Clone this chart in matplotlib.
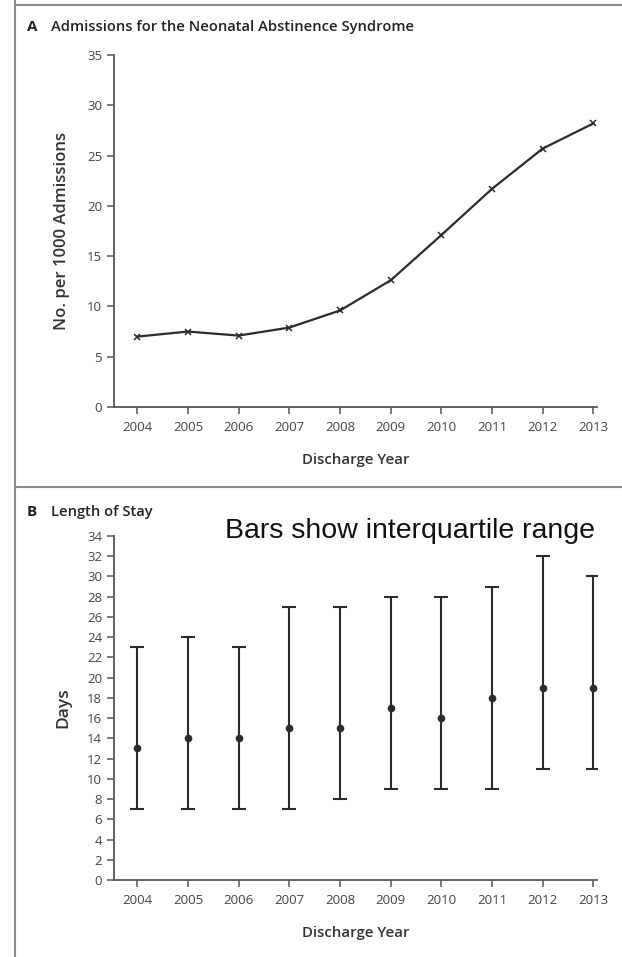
import matplotlib
matplotlib.use("Agg")
import matplotlib.pyplot as plt
from matplotlib.lines import Line2D

years = [2004, 2005, 2006, 2007, 2008, 2009, 2010, 2011, 2012, 2013]
admissions = [7.0, 7.5, 7.1, 7.9, 9.6, 12.6, 17.1, 21.7, 25.7, 28.2]
stay_median = [13, 14, 14, 15, 15, 17, 16, 18, 19, 19]
stay_q1 = [7, 7, 7, 7, 8, 9, 9, 9, 11, 11]
stay_q3 = [23, 24, 23, 27, 27, 28, 28, 29, 32, 30]

INK = "#2b2b2b"
TICK = "#555555"
FRAME = "#8a8a8a"
FONT = ["Open Sans", "DejaVu Sans"]

plt.rcParams["font.family"] = FONT

W, H = 622, 957
fig = plt.figure(figsize=(W / 100, H / 100), dpi=100)
fig.patch.set_facecolor("white")


def px_axes(left, top, right, bottom):
    return fig.add_axes([left / W, 1 - bottom / H, (right - left) / W, (bottom - top) / H])


def style(ax):
    for side in ("top", "right"):
        ax.spines[side].set_visible(False)
    for side in ("left", "bottom"):
        ax.spines[side].set_color(TICK)
        ax.spines[side].set_linewidth(1.3)
    ax.tick_params(colors=TICK, labelcolor="#444444", labelsize=9.5,
                   length=5, width=1.1, direction="out")
    ax.tick_params(axis="x", pad=5)
    ax.set_xlim(2003.54, 2013.07)
    ax.set_xticks(years)
    ax.set_xlabel("Discharge Year", fontsize=10.8, fontweight="semibold",
                  color="#333333", labelpad=14)


# panel A
ax1 = px_axes(114, 55, 597, 407)
style(ax1)
ax1.plot(years, admissions, color=INK, linewidth=1.6, marker="x",
         markersize=5, markeredgewidth=1.1)
ax1.set_ylim(0, 35)
ax1.set_yticks(range(0, 36, 5))
ax1.set_ylabel("No. per 1000 Admissions", fontsize=12, fontweight="semibold",
               color="#333333", labelpad=12)

# panel B
ax2 = px_axes(114, 536, 597, 880)
style(ax2)
lo = [m - q for m, q in zip(stay_median, stay_q1)]
hi = [q - m for m, q in zip(stay_median, stay_q3)]
ax2.errorbar(years, stay_median, yerr=[lo, hi], fmt="o", color=INK,
             markersize=4.5, elinewidth=1.5, capsize=5, capthick=1.5)
ax2.set_ylim(0, 34)
ax2.set_yticks(range(0, 35, 2))
ax2.set_ylabel("Days", fontsize=12.5, fontweight="semibold",
               color="#333333", labelpad=11)

# panel titles
fig.text(27 / W, 1 - 27 / H, "A", fontsize=11, fontweight="bold",
         color="#222222", va="center")
fig.text(51 / W, 1 - 27 / H, "Admissions for the Neonatal Abstinence Syndrome",
         fontsize=10.6, fontweight="semibold", color="#222222", va="center")
fig.text(27 / W, 1 - 512 / H, "B", fontsize=11, fontweight="bold",
         color="#222222", va="center")
fig.text(51 / W, 1 - 512 / H, "Length of Stay",
         fontsize=10.6, fontweight="semibold", color="#222222", va="center")
# the note reads like a narrow sans in the original; plain Liberation Sans
# sized to the same width
fig.text(410 / W, 1 - 538 / H, "Bars show interquartile range",
         fontsize=20.5, family=["Liberation Sans", "DejaVu Sans"],
         color="#111111", ha="center", va="baseline")

# frame lines
for xs, ys in (([15, 15], [0, H]), ([15, W], [5, 5]), ([15, W], [487, 487])):
    fig.add_artist(Line2D([x / W for x in xs], [1 - y / H for y in ys],
                          color=FRAME, linewidth=1.5))

fig.savefig("out.png", dpi=100, facecolor="white")
